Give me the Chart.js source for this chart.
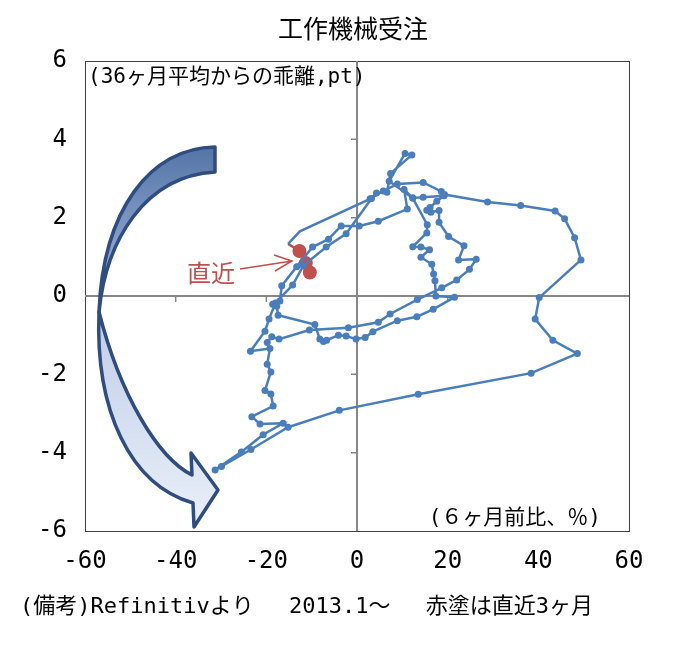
<!DOCTYPE html>
<html><head><meta charset="utf-8">
<script src="https://cdn.jsdelivr.net/npm/chart.js@4"></script>
<style>html,body{margin:0;padding:0;background:#fff}#wrap{width:689px;height:649px}</style>
</head><body><div id="wrap"><canvas id="c" width="689" height="649"></canvas></div>
<script>
const chartTitle = '工作機械受注';
const yAxisNote = '(36ヶ月平均からの乖離,pt)';
const xAxisNote = '(６ヶ月前比、％)';
const sourceNote = '(備考)Refinitivより　 2013.1～　 赤塗は直近3ヶ月';
const recentLabel = '直近';
const xTickValues = [-60, -40, -20, 0, 20, 40, 60];
const yTickValues = [-6, -4, -2, 0, 2, 4, 6];

// 6-month % change (x) and deviation from 36-month average (y), monthly from 2013.1
const blueX = [-19.8,-18.8,-17.2,-10.5,-1.9,4.7,7.3,13.3,18.7,22.0,24.8,26.3,22.4,23.6,20.2,18.1,18.1,16.3,15.4,16.1,
  17.6,19.2,14.6,12.3,10.4,11.1,4.7,0.5,-3.5,-6.3,-9.8,-13.3,-16.6,-17.0,-18.6,-17.7,-17.4,-9.3,-8.2,-7.4,
  -6.7,-4.1,-2.4,-0.2,1.8,3.5,8.9,13.2,16.8,21.5,17.4,17.2,16.9,16.5,14.1,16.0,14.1,12.3,15.4,15.5,
  12.3,7.1,10.6,12.1,7.4,6.6,4.3,3.2,-2.4,-6.8,-11.8,-14.2,-18.0,-19.4,-20.3,-23.5,-19.2,-19.8,-19.0,-20.3,
  -19.0,-18.5,-23.2,-21.4,-16.3,-20.7,-25.5,-31.3,-29.9,-23.4,-15.2,-3.9,13.5,38.4,48.6,43.2,39.3,40.2,49.4,48.0,
  45.8,43.7,36.1,28.8,19.3,18.6,14.6,8.9,5.8,2.9,-12.6,-15.2];
const blueY = [-1.19,-1.04,-1.10,-0.87,-0.81,-0.67,-0.46,-0.09,0.21,0.41,0.68,0.94,0.92,1.28,1.52,1.88,2.18,2.14,2.19,2.26,
  2.42,2.56,2.52,2.50,2.72,2.22,1.91,1.79,1.79,1.45,1.25,0.75,0.26,-0.13,-0.21,-0.26,-0.49,-0.73,-1.10,-1.16,
  -1.13,-1.00,-1.02,-1.10,-1.06,-0.91,-0.63,-0.53,-0.34,-0.03,0.00,0.39,0.56,0.81,0.99,1.18,1.25,1.26,1.61,1.82,
  2.50,2.93,3.64,3.60,3.13,2.65,2.63,2.49,1.59,1.25,0.78,0.28,-0.18,-0.59,-0.90,-1.41,-1.34,-1.74,-1.94,-2.41,
  -2.50,-2.81,-3.08,-3.27,-3.25,-3.54,-3.98,-4.44,-4.35,-3.92,-3.35,-2.92,-2.51,-1.97,-1.47,-1.13,-0.59,-0.04,0.92,1.49,
  1.97,2.17,2.31,2.40,2.59,2.67,2.90,2.86,2.68,2.48,1.65,1.33];
// latest 3 months (red)
const recentX = [-12.7, -11.3, -10.4];
const recentY = [1.15, 0.84, 0.60];

const BLUE = '#4A7EBB', RED = '#C0504D';
const FONT = '"DejaVu Sans Mono","Noto Sans CJK JP",monospace';
const nBlue = blueX.length;
const bluePts = blueX.map((x, i) => ({x: x, y: blueY[i]}));
const redPts = [bluePts[nBlue - 1]].concat(recentX.map((x, i) => ({x: x, y: recentY[i]})));

function drawBigArrow(ctx) {
  ctx.save();
  ctx.lineJoin = 'round';
  ctx.strokeStyle = '#2F4D7E';
  ctx.lineWidth = 3.5;
  // back face (upper band)
  ctx.beginPath();
  ctx.moveTo(215, 147);
  ctx.bezierCurveTo(150, 148, 103, 210, 99, 312);
  ctx.bezierCurveTo(106, 240, 145, 176, 215, 172);
  ctx.closePath();
  let g = ctx.createLinearGradient(0, 147, 0, 312);
  g.addColorStop(0, '#5575A8'); g.addColorStop(1, '#A9BDDF');
  ctx.fillStyle = g; ctx.fill(); ctx.stroke();
  // front face (lower band with head)
  ctx.beginPath();
  ctx.moveTo(99, 312);
  ctx.bezierCurveTo(95, 410, 130, 485, 193, 503);
  ctx.lineTo(194, 527);
  ctx.lineTo(218, 490);
  ctx.lineTo(191, 453);
  ctx.lineTo(192, 475);
  ctx.bezierCurveTo(158, 458, 120, 395, 99, 312);
  ctx.closePath();
  g = ctx.createLinearGradient(0, 312, 0, 527);
  g.addColorStop(0, '#BFCDE9'); g.addColorStop(1, '#EAF0F9');
  ctx.fillStyle = g; ctx.fill(); ctx.stroke();
  ctx.restore();
}

const deco = {
  id: 'deco',
  beforeDatasetsDraw(chart) {
    const ctx = chart.ctx, ca = chart.chartArea;
    const xs = chart.scales.x, ys = chart.scales.y;
    ctx.save();
    // plot box
    ctx.strokeStyle = '#404040'; ctx.lineWidth = 1;
    ctx.strokeRect(Math.round(ca.left) + 0.5, Math.round(ca.top) + 0.5, Math.round(ca.right - ca.left), Math.round(ca.bottom - ca.top));
    // crosshair axes
    const x0 = xs.getPixelForValue(0), y0 = ys.getPixelForValue(0);
    ctx.strokeStyle = '#878787'; ctx.lineWidth = 2;
    ctx.beginPath();
    ctx.moveTo(x0, ca.top); ctx.lineTo(x0, ca.bottom);
    ctx.moveTo(ca.left, y0); ctx.lineTo(ca.right, y0);
    ctx.stroke();
    ctx.lineWidth = 1.5;
    ctx.beginPath();
    xTickValues.forEach(v => { if (v !== 0 && Math.abs(v) < 60) { const p = xs.getPixelForValue(v); ctx.moveTo(p, y0); ctx.lineTo(p, y0 + 6); } });
    yTickValues.forEach(v => { if (v !== 0 && Math.abs(v) < 6) { const p = ys.getPixelForValue(v); ctx.moveTo(x0, p); ctx.lineTo(x0 - 6, p); } });
    ctx.stroke();
    ctx.restore();
    drawBigArrow(ctx);
  },
  afterDatasetsDraw(chart) {
    const ctx = chart.ctx, ca = chart.chartArea;
    ctx.save();
    ctx.fillStyle = '#000';
    ctx.textBaseline = 'middle';
    ctx.font = '25px "Noto Sans CJK JP",sans-serif';
    ctx.textAlign = 'center';
    ctx.fillText(chartTitle, 353, 28);
    ctx.font = '21px ' + FONT;
    ctx.textAlign = 'left';
    ctx.fillText(yAxisNote, ca.left + 3, ca.top + 17);
    ctx.textAlign = 'right';
    ctx.fillText(xAxisNote, ca.right - 28, ca.bottom - 12);
    ctx.font = '22px ' + FONT;
    ctx.textAlign = 'left';
    ctx.fillText(sourceNote, 20, 607);
    // recent label + arrow
    ctx.fillStyle = RED; ctx.strokeStyle = RED;
    ctx.font = '24px "Noto Sans CJK JP",sans-serif';
    ctx.fillText(recentLabel, 187, 273);
    ctx.lineWidth = 1.5;
    ctx.beginPath();
    ctx.moveTo(240, 269); ctx.lineTo(292, 261);
    ctx.moveTo(274, 255); ctx.lineTo(292, 261); ctx.lineTo(275, 271);
    ctx.stroke();
    ctx.restore();
  }
};

new Chart(document.getElementById('c'), {
  type: 'scatter',
  data: {
    datasets: [
      {
        data: bluePts, showLine: true, borderColor: BLUE, borderWidth: 2.5,
        backgroundColor: BLUE, pointBackgroundColor: BLUE, pointBorderWidth: 0,
        pointRadius: ctx => (ctx.dataIndex >= nBlue - 2 ? 0 : 3.5), tension: 0
      },
      {
        data: redPts, showLine: true, borderColor: RED, borderWidth: 2.5,
        backgroundColor: RED, pointBackgroundColor: RED, pointBorderWidth: 0,
        pointRadius: ctx => (ctx.dataIndex === 0 ? 0 : 7), tension: 0
      }
    ]
  },
  options: {
    responsive: false, animation: false, devicePixelRatio: 1,
    layout: { padding: { top: 61, right: 60, left: 0, bottom: 0 } },
    plugins: { legend: { display: false }, tooltip: { enabled: false }, title: { display: false } },
    scales: {
      x: {
        type: 'linear', min: -60, max: 60,
        afterBuildTicks: s => { s.ticks = xTickValues.map(v => ({value: v})); },
        afterFit: s => { s.height = 118; },
        grid: { display: false }, border: { display: false },
        ticks: { color: '#000', font: { family: FONT, size: 24 }, padding: 8, maxRotation: 0, autoSkip: false }
      },
      y: {
        type: 'linear', min: -6, max: 6,
        afterBuildTicks: s => { s.ticks = yTickValues.map(v => ({value: v})); },
        afterFit: s => { s.width = 85; },
        grid: { display: false }, border: { display: false },
        ticks: { color: '#000', font: { family: FONT, size: 24 }, padding: 10, autoSkip: false }
      }
    }
  },
  plugins: [deco]
});
</script>
</body></html>
